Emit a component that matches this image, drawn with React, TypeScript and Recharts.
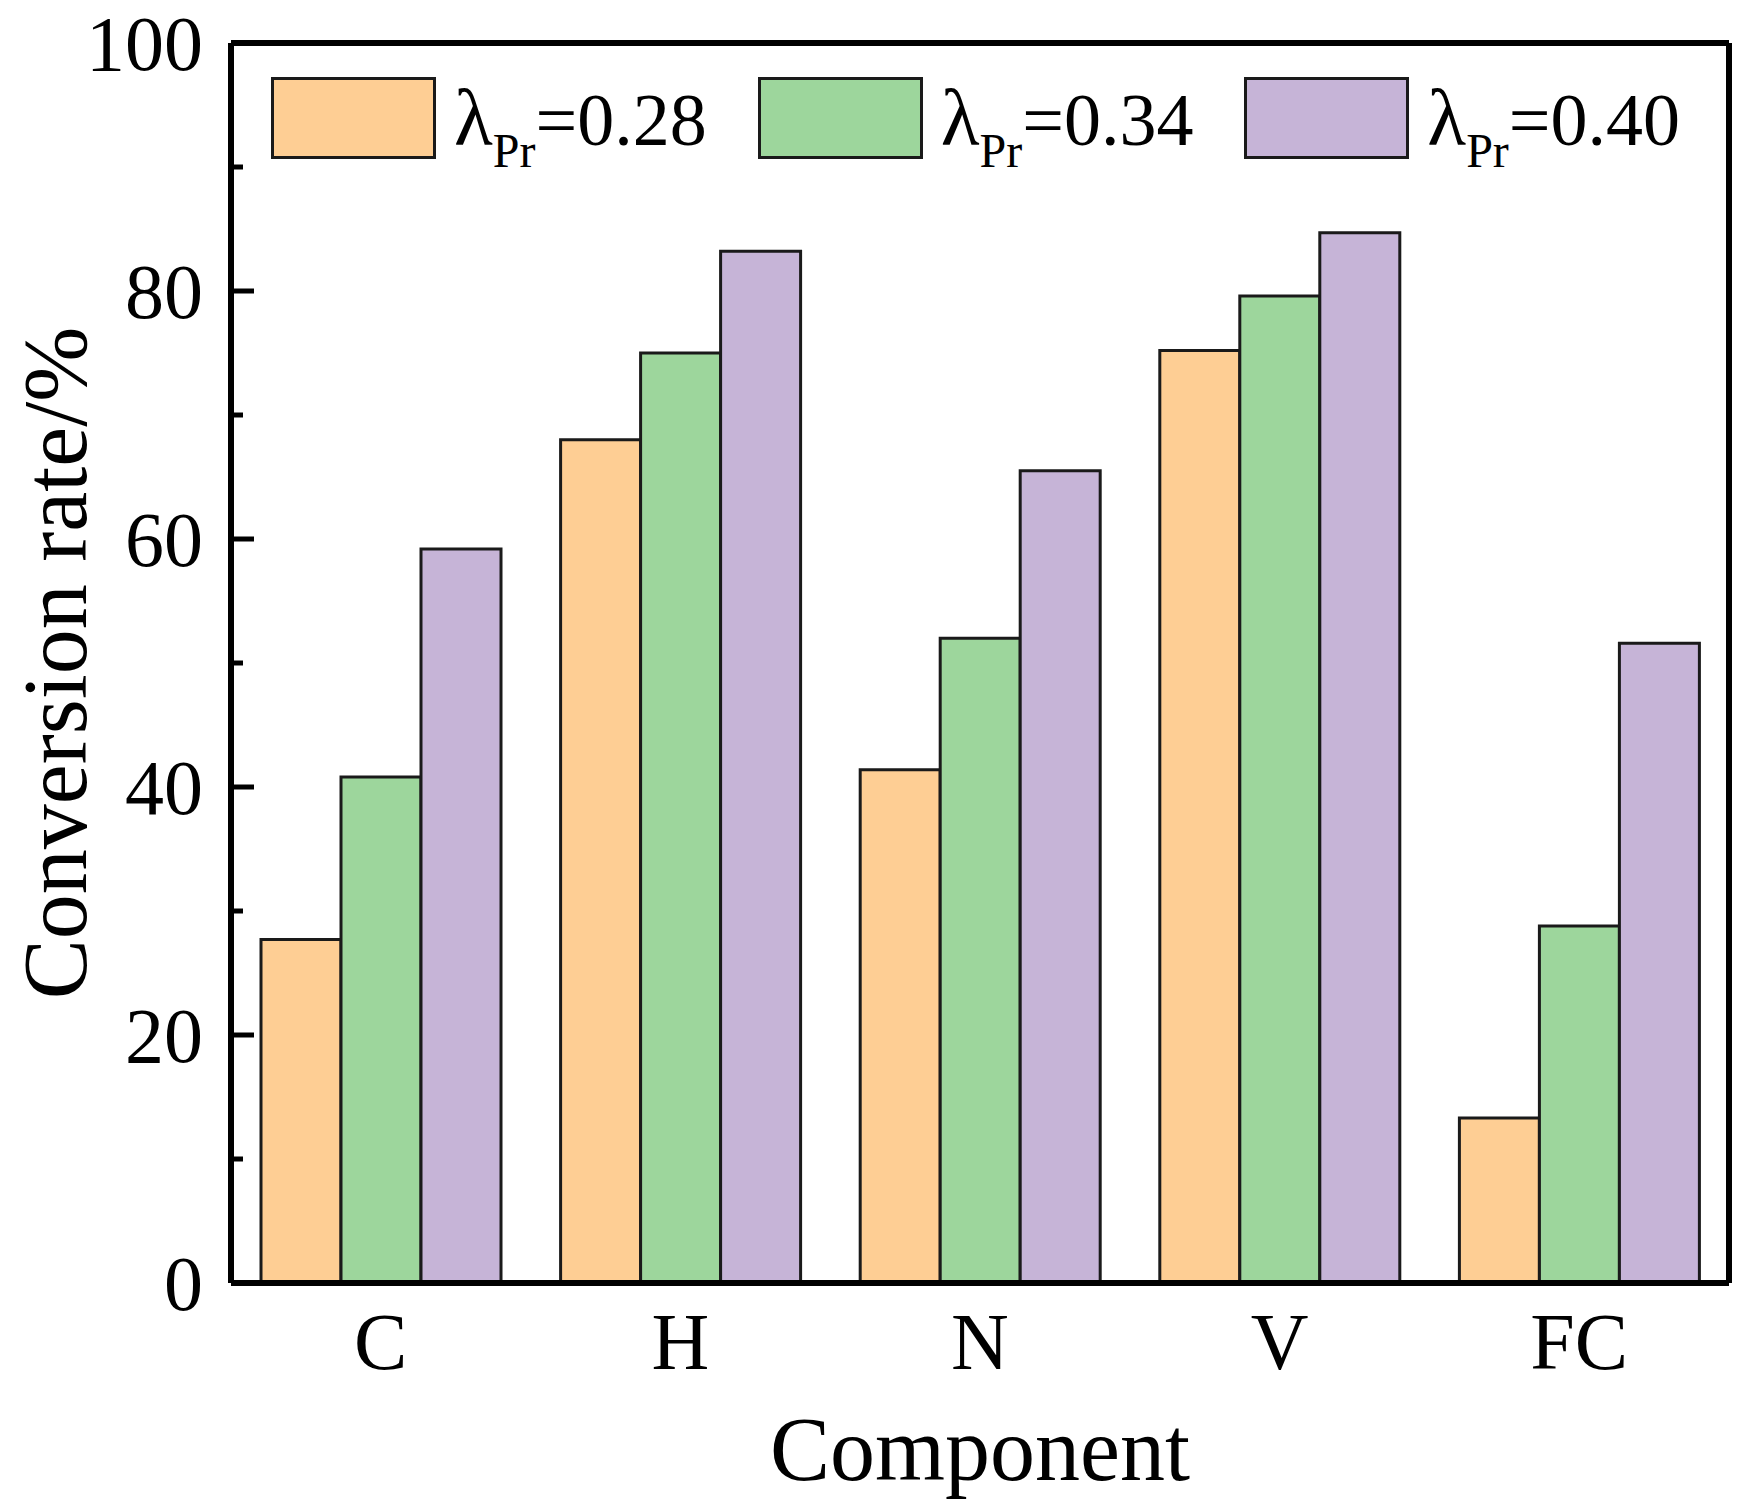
import { BarChart, Bar, XAxis, YAxis, Legend } from 'recharts';

const categories = ['C', 'H', 'N', 'V', 'FC'];
const rate028 = [27.7, 68.0, 41.4, 75.2, 13.3];
const rate034 = [40.8, 75.0, 52.0, 79.6, 28.8];
const rate040 = [59.2, 83.2, 65.5, 84.7, 51.6];
const yTicks = [0, 10, 20, 30, 40, 50, 60, 70, 80, 90, 100];
const yLabels = [0, 20, 40, 60, 80, 100];

const seriesNames = ['0.28', '0.34', '0.40'];
const colors = ['#FECE94', '#9DD69C', '#C6B4D7'];

const data = categories.map((name, i) => ({
  name,
  r028: rate028[i],
  r034: rate034[i],
  r040: rate040[i],
}));

const font = '"Liberation Serif", "Times New Roman", serif';

const YTick = (props: any) => {
  const { x, y, payload } = props;
  const major = yLabels.includes(payload.value);
  return (
    <g>
      <line x1={x} x2={x + (major ? 23 : 12)} y1={y} y2={y} stroke="#000" strokeWidth={5} />
      {major && (
        <text x={x - 28} y={y} dy={27} textAnchor="end" fontSize={78} fontFamily={font} fill="#000">
          {payload.value}
        </text>
      )}
    </g>
  );
};

const XTick = (props: any) => {
  const { x, y, payload } = props;
  return (
    <text x={x} y={y} dy={55} textAnchor="middle" fontSize={80} fontFamily={font} fill="#000">
      {payload.value}
    </text>
  );
};

const LegendBox = () => (
  <div style={{ display: 'flex', fontFamily: font, color: '#000' }}>
    {seriesNames.map((s, i) => (
      <div key={s} style={{ display: 'flex', alignItems: 'center', width: 495 }}>
        <div
          style={{
            width: 165,
            height: 82,
            boxSizing: 'border-box',
            border: '3px solid #1a1a1a',
            background: colors[i],
            marginRight: 18,
          }}
        />
        <span style={{ fontSize: 74, lineHeight: 1 }}>
          <span style={{ fontSize: 80 }}>λ</span>
          <span style={{ fontSize: 48, position: 'relative', top: 22 }}>Pr</span>={s}
        </span>
      </div>
    ))}
  </div>
);

export default function App() {
  return (
    <div style={{ width: 1744, height: 1491, background: '#fff' }}>
      <BarChart
        width={1744}
        height={1491}
        data={data}
        margin={{ top: 34, right: 22, bottom: 0, left: 0 }}
        barCategoryGap={30}
        barGap={0}
      >
        <XAxis
          dataKey="name"
          height={216}
          tickLine={false}
          tickSize={0}
          tickMargin={31}
          tick={<XTick />}
          axisLine={{ stroke: '#000', strokeWidth: 6 }}
          label={{
            value: 'Component',
            content: (p: any) => (
              <text
                x={p.viewBox.x + p.viewBox.width / 2}
                y={p.viewBox.y + 197}
                textAnchor="middle"
                fontSize={90}
                fontFamily={font}
                fill="#000"
              >
                Component
              </text>
            ),
          }}
        />
        <XAxis
          xAxisId="top"
          dataKey="name"
          orientation="top"
          height={1}
          tick={false}
          tickLine={false}
          axisLine={{ stroke: '#000', strokeWidth: 6 }}
        />
        <YAxis
          domain={[0, 100]}
          ticks={yTicks}
          interval={0}
          width={223}
          tickLine={false}
          tickSize={0}
          tickMargin={0}
          tick={<YTick />}
          axisLine={{ stroke: '#000', strokeWidth: 6 }}
          label={{
            value: 'Conversion rate/%',
            content: (p: any) => {
              const cx = p.viewBox.x + 78;
              const cy = p.viewBox.y + p.viewBox.height / 2;
              return (
                <text
                  x={cx}
                  y={cy}
                  transform={`rotate(-90, ${cx}, ${cy})`}
                  textAnchor="middle"
                  fontSize={90}
                  fontFamily={font}
                  fill="#000"
                >
                  Conversion rate/%
                </text>
              );
            },
          }}
        />
        <YAxis
          yAxisId="right"
          orientation="right"
          domain={[0, 100]}
          width={1}
          tick={false}
          tickLine={false}
          axisLine={{ stroke: '#000', strokeWidth: 6 }}
        />
        <Legend
          layout="vertical"
          verticalAlign="middle"
          align="center"
          content={<LegendBox />}
          wrapperStyle={{ top: 69, left: 263, width: 1460 }}
        />
        <Bar dataKey="r028" name="λPr=0.28" fill={colors[0]} stroke="#1a1a1a" strokeWidth={3} isAnimationActive={false} />
        <Bar dataKey="r034" name="λPr=0.34" fill={colors[1]} stroke="#1a1a1a" strokeWidth={3} isAnimationActive={false} />
        <Bar dataKey="r040" name="λPr=0.40" fill={colors[2]} stroke="#1a1a1a" strokeWidth={3} isAnimationActive={false} />
      </BarChart>
    </div>
  );
}
